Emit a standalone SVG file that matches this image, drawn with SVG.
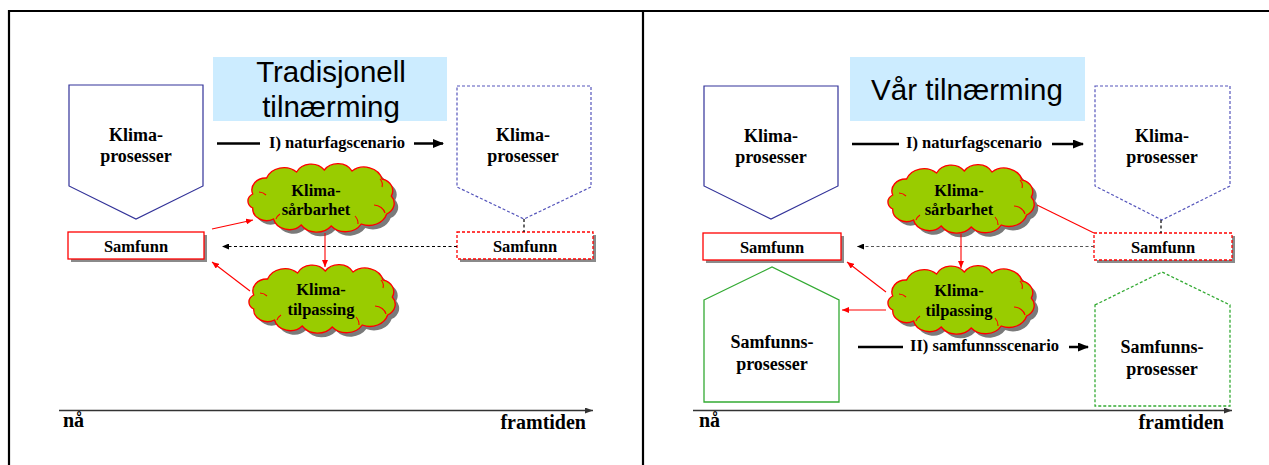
<svg xmlns="http://www.w3.org/2000/svg" width="1269" height="465" viewBox="0 0 1269 465">
<style>
.frame{stroke:#000;stroke-width:2.2;fill:none}
.title{fill:#CCECFF}
.tt{font-family:"Liberation Sans",Arial,sans-serif;font-size:29.5px;fill:#000;text-anchor:middle}
.lb{font-family:"Liberation Serif","Times New Roman",serif;font-weight:bold;fill:#000;text-anchor:middle}
.st{text-anchor:start}
.en{text-anchor:end}
.big{font-size:18px}
.med{font-size:16.5px}
.ax{font-size:20px}
.klima{fill:#fff;stroke:#333399;stroke-width:1.2}
.klimaD{fill:#fff;stroke:#5555BB;stroke-width:1.2;stroke-dasharray:3 2}
.samf{fill:#fff;stroke:#FF0000;stroke-width:1.3}
.samfD{fill:#fff;stroke:#FF0000;stroke-width:1.3;stroke-dasharray:3 2}
.shadow{fill:#8a8a8a}
.cloud{fill:#99CC00;stroke:#FF0000;stroke-width:1.3}
.cshadow{fill:#7a7a7a}
.inner{fill:none;stroke:#FF0000;stroke-width:1.1}
.green{fill:#fff;stroke:#33AA33;stroke-width:1.3}
.greenD{fill:#fff;stroke:#33AA33;stroke-width:1.3;stroke-dasharray:3 2}
.red{stroke:#FF0000;stroke-width:1.1;fill:none}
.bk{stroke:#000;stroke-width:2.5;fill:none}
.dsh{stroke:#000;stroke-width:1.2;stroke-dasharray:3 2.5;fill:none}
.dshg{stroke:#555;stroke-width:1.2;stroke-dasharray:3 2.5;fill:none}
.axis{stroke:#333;stroke-width:1.4;fill:none}
</style>
<defs>
<marker id="ahBlack" markerUnits="userSpaceOnUse" markerWidth="11" markerHeight="9" refX="10" refY="4.5" orient="auto"><path d="M0,0 L11,4.5 L0,9 Z" fill="#000"/></marker>
<marker id="ahRed" markerUnits="userSpaceOnUse" markerWidth="7" markerHeight="6" refX="7" refY="3" orient="auto"><path d="M0,0 L7,3 L0,6 Z" fill="#FF0000"/></marker>
<marker id="ahDash" markerUnits="userSpaceOnUse" markerWidth="7" markerHeight="6" refX="7" refY="3" orient="auto"><path d="M0,0 L7,3 L0,6 Z" fill="#000"/></marker>
<marker id="ahAxis" markerUnits="userSpaceOnUse" markerWidth="8" markerHeight="6" refX="8" refY="3" orient="auto"><path d="M0,0 L8,3 L0,6 Z" fill="#333"/></marker>
<path id="cloudShape" d="M-66,-4 A13.2,12 0 0 1 -52.8,-20 A17.6,16 0 0 1 -24.2,-26 A15.4,14 0 0 1 2.2,-28 A15.4,14 0 0 1 28.6,-27 A17.6,16 0 0 1 57.2,-19 A13.2,12 0 0 1 66,-2 A13.2,12 0 0 1 61.6,16 A17.6,16 0 0 1 37.4,26 A17.6,16 0 0 1 8.8,28 A17.6,16 0 0 1 -19.8,27 A15.4,14 0 0 1 -46.2,21 A13.2,12 0 0 1 -66,10 A8.8,8 0 0 1 -66,-4 Z"/>
<g id="cloudFull">
<use href="#cloudShape" class="cshadow" transform="translate(4,4) scale(1.05,1)"/>
<use href="#cloudShape" class="cloud" transform="scale(1.05,1)"/>
<path class="inner" d="M-63,-6 A10,8 0 0 1 -56,-3 M-46,21 A12,10 0 0 1 -42,16 M36,26 A14,12 0 0 0 33,18 M63,15 A12,10 0 0 0 52,7 M58,-19 A10,9 0 0 1 60,-11"/>
</g>
</defs>

<g id="frame">
<line class="frame" x1="8" y1="11" x2="1269" y2="11"/>
<line class="frame" x1="9" y1="10" x2="9" y2="465"/>
<line class="frame" x1="643" y1="10" x2="643" y2="465"/>
</g>

<!-- LEFT PANEL -->
<g id="title-left">
<rect class="title" x="213" y="57" width="234" height="64"/>
<text class="tt" x="331" y="82">Tradisjonell</text>
<text class="tt" x="331" y="117">tilnærming</text>
</g>
<g id="klima-now-left">
<polygon class="klima" points="69,85 203,85 203,186 136,219 69,186"/>
<text class="lb big" x="136" y="141">Klima-</text>
<text class="lb big" x="136" y="162">prosesser</text>
</g>
<g id="klima-future-left">
<polygon class="klimaD" points="457,86 591,86 591,187 524,219 457,187"/>
<text class="lb big" x="523" y="141">Klima-</text>
<text class="lb big" x="523" y="162">prosesser</text>
</g>
<g id="samfunn-now-left">
<rect class="shadow" x="71" y="235" width="136" height="27"/>
<rect class="samf" x="68" y="232" width="136" height="27"/>
<text class="lb med" x="136" y="252">Samfunn</text>
</g>
<g id="samfunn-future-left">
<rect class="shadow" x="460" y="235" width="136" height="27"/>
<rect class="samfD" x="457" y="232" width="136" height="27"/>
<text class="lb med" x="525" y="252">Samfunn</text>
</g>
<g id="cloud-sarbarhet-left">
<use href="#cloudFull" transform="translate(322,198)"/>
<text class="lb med" x="316" y="195.5">Klima-</text>
<text class="lb med" x="316" y="215">sårbarhet</text>
</g>
<g id="cloud-tilpassing-left">
<use href="#cloudFull" transform="translate(323,299)"/>
<text class="lb med" x="321" y="295">Klima-</text>
<text class="lb med" x="321" y="314.5">tilpassing</text>
</g>
<g id="labels-left">
<text class="lb med st" x="269" y="147.5">I) naturfagscenario</text>
<text class="lb ax st" x="63" y="427">nå</text>
<text class="lb ax en" x="586" y="429">framtiden</text>
</g>

<!-- RIGHT PANEL -->
<g id="title-right">
<rect class="title" x="850" y="57" width="235" height="64"/>
<text class="tt" x="967" y="100">Vår tilnærming</text>
</g>
<g id="klima-now-right">
<polygon class="klima" points="704,86 838,86 838,186 771,219 704,186"/>
<text class="lb big" x="771" y="141.5">Klima-</text>
<text class="lb big" x="771" y="162.5">prosesser</text>
</g>
<g id="klima-future-right">
<polygon class="klimaD" points="1095,86 1230,86 1230,186 1162,220 1095,186"/>
<text class="lb big" x="1162" y="141.5">Klima-</text>
<text class="lb big" x="1162" y="162.5">prosesser</text>
</g>
<g id="samfunn-now-right">
<rect class="shadow" x="706" y="236" width="138" height="27"/>
<rect class="samf" x="703" y="233" width="138" height="27"/>
<text class="lb med" x="772" y="253">Samfunn</text>
</g>
<g id="samfunn-future-right">
<rect class="shadow" x="1097" y="236" width="138" height="27"/>
<rect class="samfD" x="1094" y="233" width="138" height="27"/>
<text class="lb med" x="1163" y="253">Samfunn</text>
</g>
<g id="cloud-sarbarhet-right">
<use href="#cloudFull" transform="translate(962,199)"/>
<text class="lb med" x="959" y="195.5">Klima-</text>
<text class="lb med" x="959" y="215">sårbarhet</text>
</g>
<g id="cloud-tilpassing-right">
<use href="#cloudFull" transform="translate(962,300)"/>
<text class="lb med" x="959" y="296">Klima-</text>
<text class="lb med" x="959" y="315.5">tilpassing</text>
</g>
<g id="samfunnsprosesser-now">
<polygon class="green" points="704,300 772,267 839,300 839,402 704,402"/>
<text class="lb big" x="772" y="348">Samfunns-</text>
<text class="lb big" x="772" y="370">prosesser</text>
</g>
<g id="samfunnsprosesser-future">
<polygon class="greenD" points="1095,305 1162,272 1230,305 1230,406 1095,406"/>
<text class="lb big" x="1162" y="353">Samfunns-</text>
<text class="lb big" x="1162" y="375">prosesser</text>
</g>
<g id="labels-right">
<text class="lb med st" x="906" y="148">I) naturfagscenario</text>
<text class="lb med st" x="910" y="351">II) samfunnsscenario</text>
<text class="lb ax st" x="699" y="427">nå</text>
<text class="lb ax en" x="1224" y="429">framtiden</text>
</g>

<g id="connectors">
<!-- left -->
<line class="bk" x1="217" y1="143.5" x2="260" y2="143.5"/>
<line class="bk" x1="414" y1="143.5" x2="443" y2="143.5" marker-end="url(#ahBlack)"/>
<line class="dsh" x1="524" y1="219" x2="524" y2="232"/>
<line class="dsh" x1="457" y1="246.5" x2="222" y2="246.5" marker-end="url(#ahDash)"/>
<line class="red" x1="212" y1="229" x2="253" y2="220" marker-end="url(#ahRed)"/>
<line class="red" x1="325" y1="233" x2="325" y2="267" marker-end="url(#ahRed)"/>
<line class="red" x1="250" y1="291" x2="212" y2="262" marker-end="url(#ahRed)"/>
<line class="axis" x1="59" y1="410.5" x2="593" y2="410.5" marker-end="url(#ahAxis)"/>
<!-- right -->
<line class="bk" x1="852" y1="144" x2="899" y2="144"/>
<line class="bk" x1="1052" y1="144" x2="1083" y2="144" marker-end="url(#ahBlack)"/>
<line class="bk" x1="858" y1="347" x2="903" y2="347"/>
<line class="bk" x1="1069" y1="347" x2="1088" y2="347" marker-end="url(#ahBlack)"/>
<line class="dsh" x1="1161" y1="220" x2="1161" y2="233"/>
<line class="dshg" x1="1094" y1="246.5" x2="857" y2="246.5" marker-end="url(#ahDash)"/>
<line class="red" x1="1037" y1="205" x2="1094" y2="233"/>
<line class="red" x1="961" y1="234" x2="961" y2="268" marker-end="url(#ahRed)"/>
<line class="red" x1="886" y1="292" x2="847" y2="262" marker-end="url(#ahRed)"/>
<line class="red" x1="886" y1="310" x2="842" y2="310" marker-end="url(#ahRed)"/>
<line class="axis" x1="693" y1="410.5" x2="1232" y2="410.5" marker-end="url(#ahAxis)"/>
</g>
</svg>
